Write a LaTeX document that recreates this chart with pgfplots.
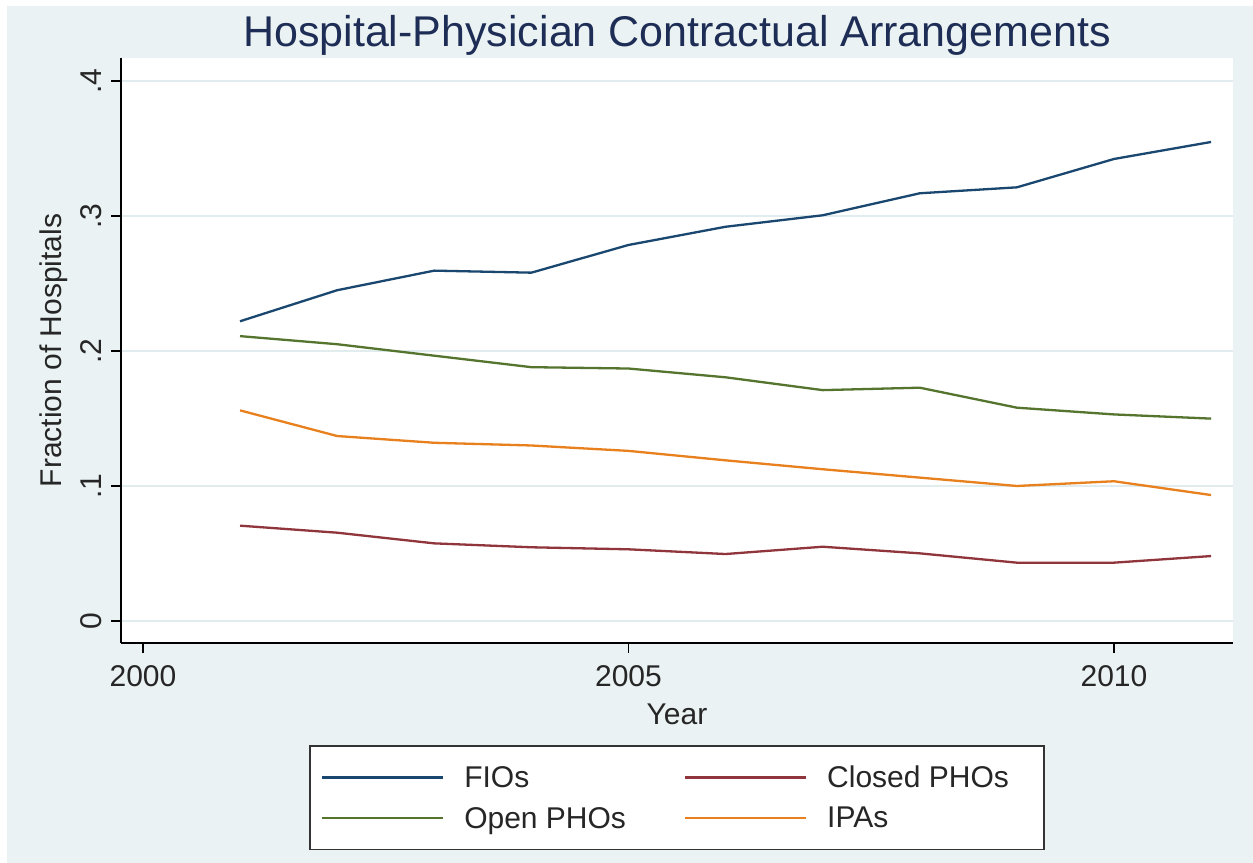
\documentclass[border=0pt]{standalone}
\usepackage{pgfplots}
\pgfplotsset{compat=1.18}
\usepackage{fontspec}
\setmainfont{Liberation Sans}
\usetikzlibrary{backgrounds,calc}
\definecolor{stnavy}{RGB}{26,71,111}
\definecolor{stmaroon}{RGB}{144,53,59}
\definecolor{stgreen}{RGB}{85,117,47}
\definecolor{storange}{RGB}{232,128,30}
\definecolor{stbg}{RGB}{234,242,243}
\definecolor{stgrid}{RGB}{225,236,238}
\definecolor{sttitle}{RGB}{30,45,85}
\pgfplotstableread{
year fio closed open ipa
2001 0.222 0.0706 0.211 0.156
2002 0.245 0.0654 0.205 0.137
2003 0.2595 0.0575 0.1965 0.132
2004 0.258 0.0546 0.188 0.130
2005 0.2785 0.0531 0.187 0.126
2006 0.292 0.0496 0.1805 0.119
2007 0.3005 0.055 0.171 0.1124
2008 0.3168 0.0501 0.1728 0.1062
2009 0.3212 0.0432 0.158 0.100
2010 0.3422 0.0432 0.153 0.1035
2011 0.3548 0.0481 0.1499 0.0933
}\datatable
\begin{document}
\begin{tikzpicture}
\begin{axis}[
  name=ax,
  scale only axis,
  width=1112bp, height=585bp,
  xmin=1999.774, xmax=2011.226,
  ymin=-0.0163, ymax=0.417,
  axis lines*=left,
  axis line style={black, line width=1.6bp},
  axis background/.style={fill=white},
  tick align=outside,
  major tick length=10bp,
  tick style={black, line width=1.6bp},
  xtick={2000,2005,2010},
  ytick={0,0.1,0.2,0.3,0.4},
  yticklabels={0,.1,.2,.3,.4},
  ymajorgrids,
  grid style={stgrid, line width=1.6bp},
  /pgf/number format/assume math mode=true,
  xticklabel={\pgfmathprintnumber[1000 sep={}]{\tick}},
  tick label style={font=\fontsize{30bp}{36bp}\selectfont, text=black!85},
  yticklabel style={rotate=90, anchor=base, inner sep=0pt, yshift=10bp},
  xticklabel style={anchor=north, inner sep=0pt, yshift=-12bp},
  legend style={
    at={(0.5,-0.1744)}, anchor=north,
    draw=black!80, line width=1.6bp, fill=white,
    font=\fontsize{30bp}{36bp}\selectfont,
    legend columns=2,
    inner xsep=11bp, inner ysep=16bp,
    row sep=10bp,
    /tikz/every odd column/.append style={column sep=10bp},
    /tikz/every even column/.append style={column sep=48bp},
    nodes={inner xsep=10bp, inner ysep=4bp, text=black!85},
  },
  legend image code/.code={\draw[#1, line width=2.2bp] (0bp,0bp) -- (121bp,0bp);},
  legend cell align=left,
]
\addplot[stnavy, line width=2.3bp] table[x=year,y=fio] {\datatable};
\addlegendentry{FIOs}
\addplot[stmaroon, line width=2.3bp] table[x=year,y=closed] {\datatable};
\addlegendentry{Closed PHOs\hspace*{14bp}}
\addplot[stgreen, line width=2.3bp] table[x=year,y=open] {\datatable};
\addlegendentry{Open PHOs}
\addplot[storange, line width=2.3bp] table[x=year,y=ipa] {\datatable};
\addlegendentry{IPAs}
\end{axis}
\node[anchor=base, font=\fontsize{43bp}{50bp}\selectfont, text=sttitle] at ($(ax.north)+(0,11bp)$) {Hospital-Physician Contractual Arrangements};
\node[anchor=base, font=\fontsize{30bp}{36bp}\selectfont, text=black!85] at ($(ax.south)+(0,-81bp)$) {Year};
\node[anchor=base, rotate=90, font=\fontsize{30bp}{36bp}\selectfont, text=black!85] at ($(ax.west)+(-59bp,0)$) {Fraction of Hospitals};
\begin{scope}[on background layer]
\fill[white] ($(ax.south west)+(-121bp,-220bp)$) rectangle ($(ax.south west)+(1132bp,643bp)$);
\fill[stbg] ($(ax.south west)+(-114bp,-220bp)$) rectangle ($(ax.south west)+(1132bp,637bp)$);
\end{scope}
\end{tikzpicture}
\end{document}
